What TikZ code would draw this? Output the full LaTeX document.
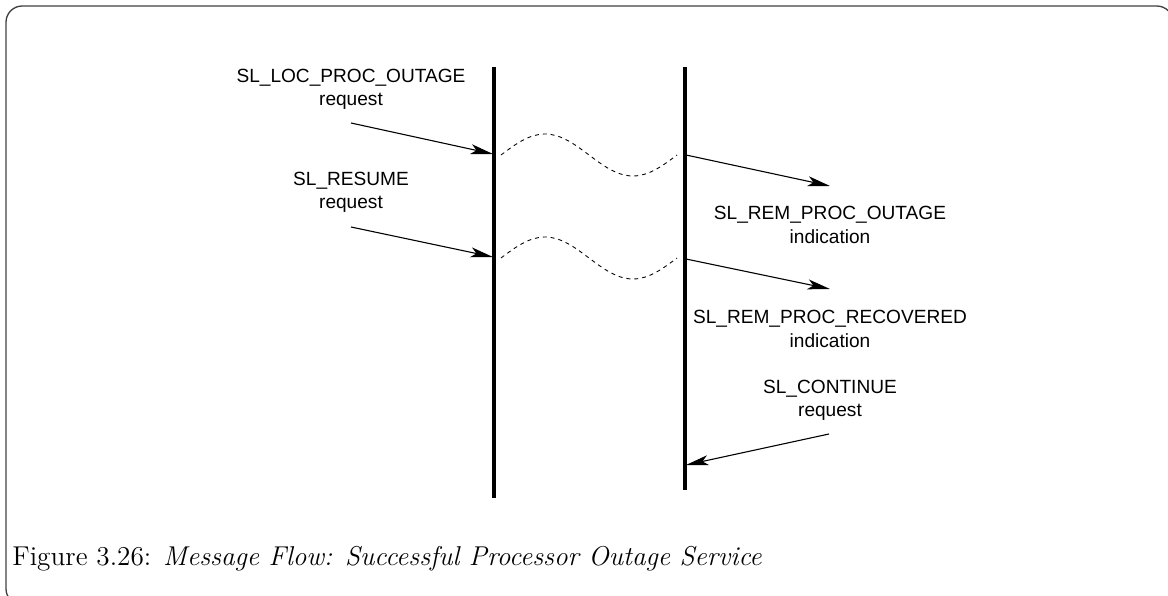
\documentclass[tikz,border=0pt]{standalone}
\usepackage{fontspec}
\setsansfont{Liberation Sans}
\usepackage{tikz}
\usetikzlibrary{arrows.meta,positioning}
\tikzset{
  lifeline/.style={line width=1.4pt, draw=black},
  msgarrow/.style={
    -{Stealth[length=3.6mm, width=1.6mm, inset=0.9mm]}, line width=0.5pt
  },
  msglabel/.style={
    font=\fontsize{8.7}{10.6}\selectfont\sffamily, align=center,
    inner sep=0pt
  },
  gapwave/.style={dash pattern=on 1.8pt off 1.8pt, line width=0.4pt},
  framebox/.style={draw=black!75, line width=0.6pt, rounded corners=0.26cm},
  captext/.style={font=\fontsize{12.4}{15}\selectfont, anchor=base west, inner sep=0pt},
}

\begin{document}
\begin{tikzpicture}[x=0.016cm, y=-0.016cm]
  \useasboundingbox (0,0) rectangle (1168,596);
  \draw[framebox] (6,6) rectangle (1173,605);

  % lifelines
  \coordinate (ltop) at (494,67);
  \coordinate (lbot) at (494,498);
  \coordinate (rtop) at (685,67);
  \coordinate (rbot) at (685,490);
  \draw[lifeline] (ltop) -- (lbot);
  \draw[lifeline] (rtop) -- (rbot);

  % outage request and indication
  \node[msglabel] (outreq) at (351,89) {SL\_LOC\_PROC\_OUTAGE\\request};
  \coordinate (outsrc) at (351,123);
  \coordinate (outin) at (493,154);
  \coordinate (outout) at (686,155);
  \coordinate (outdst) at (830,186);
  \draw[msgarrow] (outsrc) -- (outin);
  \draw[gapwave] (501,155) sin (545,134) cos (589,155) sin (633,176) cos (677,155);
  \draw[msgarrow] (outout) -- (outdst);
  \node[msglabel] (outind) at (830,225) {SL\_REM\_PROC\_OUTAGE\\indication};

  % resume request and recovered indication
  \node[msglabel] (resreq) at (351,192) {SL\_RESUME\\request};
  \coordinate (ressrc) at (351,227);
  \coordinate (resin) at (493,257);
  \coordinate (resout) at (686,259);
  \coordinate (resdst) at (830,289);
  \draw[msgarrow] (ressrc) -- (resin);
  \draw[gapwave] (501,258) sin (545,237) cos (589,258) sin (633,279) cos (677,258);
  \draw[msgarrow] (resout) -- (resdst);
  \node[msglabel] (recind) at (830,329) {SL\_REM\_PROC\_RECOVERED\\indication};

  % continue request
  \node[msglabel] (contreq) at (830,400) {SL\_CONTINUE\\request};
  \coordinate (contsrc) at (829,434);
  \coordinate (contin) at (686,465);
  \draw[msgarrow] (contsrc) -- (contin);

  \node[captext] (caption) at (12,566) {Figure 3.26: \textit{Message Flow: Successful Processor Outage Service}};
\end{tikzpicture}
\end{document}
